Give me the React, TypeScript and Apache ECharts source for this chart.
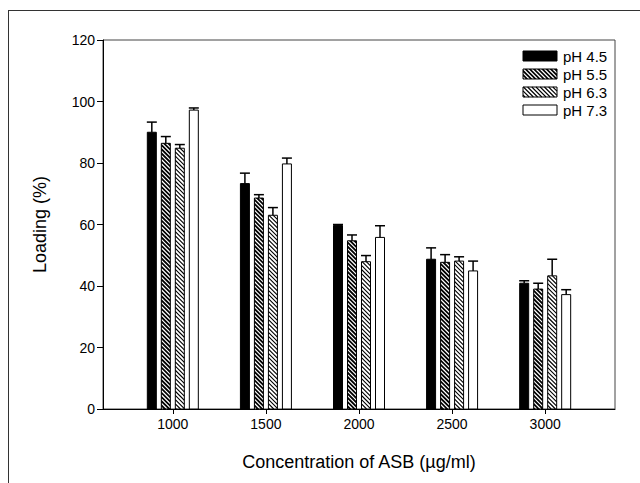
import React, { useEffect, useRef } from "react";
import * as echarts from "echarts";

const categories = [1000, 1500, 2000, 2500, 3000];
const seriesNames = ["pH 4.5", "pH 5.5", "pH 6.3", "pH 7.3"];
const ph45 = [90.0, 73.3, 59.7, 48.7, 40.9];
const err45 = [3.3, 3.4, 0.3, 3.7, 0.8];
const ph55 = [86.4, 68.6, 54.7, 47.7, 39.0];
const err55 = [2.2, 1.1, 1.9, 2.5, 1.9];
const ph63 = [84.8, 63.0, 47.9, 48.1, 43.3];
const err63 = [1.2, 2.5, 2.0, 1.4, 5.4];
const ph73 = [97.2, 79.7, 55.8, 44.9, 37.2];
const err73 = [0.7, 1.9, 3.8, 3.2, 1.6];

const values = [ph45, ph55, ph63, ph73];
const errors = [err45, err55, err63, err73];
const kinds = ["solid", "dark", "light", "white"];

const OFFSETS = [-21, -7, 7, 21];
const BAR_W = 9;
const HATCH_STEP = 4.2;
const FONT = "Liberation Sans, Arial, sans-serif";

function hatchSegments(x0: number, y0: number, x1: number, y1: number, step: number) {
  const segs: number[][] = [];
  for (let c = y0 - x1 - step; c <= y1 - x0 + step; c += step) {
    const xa = Math.max(x0, y0 - c);
    const xb = Math.min(x1, y1 - c);
    if (xb > xa) segs.push([xa, xa + c, xb, xb + c]);
  }
  return segs;
}

function hatchPath(x0: number, y0: number, x1: number, y1: number, step: number) {
  return hatchSegments(x0, y0, x1, y1, step)
    .map((s) => `M${s[0].toFixed(2)} ${s[1].toFixed(2)}L${s[2].toFixed(2)} ${s[3].toFixed(2)}`)
    .join("");
}

function fillOf(kind: string) {
  return kind === "solid" || kind === "dark" ? "#000" : "#fff";
}

function makeRender(idx: number) {
  const kind = kinds[idx];
  return (params: any, api: any) => {
    const x = api.value(0);
    const v = api.value(1);
    const e = api.value(2);
    const top = api.coord([x, v]);
    const base = api.coord([x, 0]);
    const et = api.coord([x, v + e]);
    const cx = top[0] + OFFSETS[idx];
    const x0 = cx - BAR_W / 2;
    const x1 = cx + BAR_W / 2;
    const y0 = top[1];
    const y1 = base[1];
    const children: any[] = [
      {
        type: "rect",
        shape: { x: x0, y: y0, width: BAR_W, height: y1 - y0 },
        style: { fill: fillOf(kind), stroke: null },
      },
    ];
    if (kind === "dark" || kind === "light") {
      children.push({
        type: "path",
        shape: { pathData: hatchPath(x0, y0, x1, y1, HATCH_STEP) },
        style: {
          fill: null,
          stroke: kind === "dark" ? "#fff" : "#000",
          lineWidth: kind === "dark" ? 1.2 : 1.1,
        },
      });
    }
    children.push({
      type: "rect",
      shape: { x: x0, y: y0, width: BAR_W, height: y1 - y0 },
      style: { fill: null, stroke: "#000", lineWidth: 1 },
    });
    children.push({
      type: "line",
      shape: { x1: cx, y1: y0, x2: cx, y2: et[1] },
      style: { stroke: "#000", lineWidth: 1.5 },
    });
    children.push({
      type: "line",
      shape: { x1: cx - 5, y1: et[1], x2: cx + 5, y2: et[1] },
      style: { stroke: "#000", lineWidth: 1.5 },
    });
    return { type: "group", children };
  };
}

function buildLegend() {
  const children: any[] = [];
  const lx0 = 523;
  const lw = 34;
  const lh = 10;
  const rowY = [56, 74, 92, 110];
  seriesNames.forEach((name, i) => {
    const kind = kinds[i];
    const y0 = rowY[i] - lh / 2;
    children.push({
      type: "rect",
      shape: { x: lx0, y: y0, width: lw, height: lh },
      style: { fill: fillOf(kind), stroke: null },
    });
    if (kind === "dark" || kind === "light") {
      hatchSegments(lx0, y0, lx0 + lw, y0 + lh, HATCH_STEP).forEach((s) => {
        children.push({
          type: "line",
          shape: { x1: s[0], y1: s[1], x2: s[2], y2: s[3] },
          style: { stroke: kind === "dark" ? "#fff" : "#000", lineWidth: kind === "dark" ? 1.2 : 1.1 },
        });
      });
    }
    children.push({
      type: "rect",
      shape: { x: lx0, y: y0, width: lw, height: lh },
      style: { fill: null, stroke: "#000", lineWidth: 1 },
    });
    children.push({
      type: "text",
      x: 563,
      y: rowY[i],
      style: {
        text: name,
        fill: "#000",
        font: `15px ${FONT}`,
        verticalAlign: "middle",
      },
    });
  });
  return children;
}

export default function App() {
  const ref = useRef<HTMLDivElement>(null);
  useEffect(() => {
    if (!ref.current) return;
    const chart = echarts.init(ref.current, null, { renderer: "svg" });
    const option: any = {
      animation: false,
      backgroundColor: "#fff",
      textStyle: { fontFamily: FONT },
      grid: {
        left: 103,
        top: 40,
        right: 25,
        bottom: 74,
        show: true,
        borderColor: "#444",
        borderWidth: 1,
        backgroundColor: "transparent",
      },
      xAxis: {
        type: "value",
        min: 625,
        max: 3375,
        axisLine: { show: true, lineStyle: { color: "#000", width: 1 } },
        axisTick: { show: true, customValues: categories, length: 5, inside: false, lineStyle: { color: "#000" } },
        axisLabel: {
          customValues: categories,
          fontSize: 14,
          color: "#000",
          margin: 8,
          fontFamily: FONT,
          formatter: (v: number) => String(v),
        },
        splitLine: { show: false },
        name: "Concentration of ASB (\u00b5g/ml)",
        nameLocation: "middle",
        nameGap: 44,
        nameTextStyle: { fontSize: 18, color: "#000", fontFamily: FONT },
      },
      yAxis: {
        type: "value",
        min: 0,
        max: 120,
        interval: 20,
        axisLine: { show: true, lineStyle: { color: "#000", width: 1 } },
        axisTick: { show: true, length: 6, inside: false, lineStyle: { color: "#000" } },
        axisLabel: { fontSize: 14, color: "#000", margin: 8, fontFamily: FONT },
        splitLine: { show: false },
        name: "Loading (%)",
        nameLocation: "middle",
        nameGap: 54,
        nameTextStyle: { fontSize: 18, color: "#000", fontFamily: FONT },
      },
      series: seriesNames.map((name, i) => ({
        type: "custom",
        name,
        clip: false,
        encode: { x: 0, y: 1 },
        renderItem: makeRender(i),
        data: categories.map((c, j) => [c, values[i][j], errors[i][j]]),
      })),
      graphic: [
        {
          type: "line",
          shape: { x1: 8, y1: 10.5, x2: 640, y2: 10.5 },
          style: { stroke: "#333", lineWidth: 1 },
        },
        {
          type: "line",
          shape: { x1: 8.5, y1: 10, x2: 8.5, y2: 483 },
          style: { stroke: "#333", lineWidth: 1 },
        },
        { type: "group", children: buildLegend() },
      ],
    };
    chart.setOption(option);
    return () => chart.dispose();
  }, []);
  return <div ref={ref} style={{ width: 640, height: 483, position: "absolute", left: 0, top: 0 }} />;
}
